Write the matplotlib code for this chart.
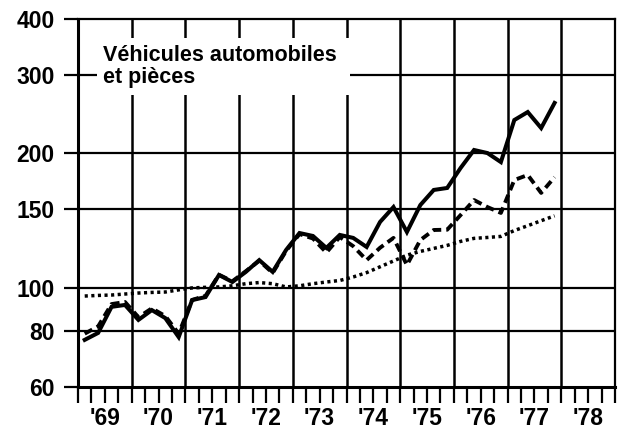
import numpy as np
import matplotlib
matplotlib.use("Agg")
import matplotlib.pyplot as plt
from matplotlib.patches import Rectangle
from matplotlib.ticker import FixedLocator, NullLocator, NullFormatter

plt.rcParams['font.family'] = ['Liberation Sans', 'DejaVu Sans']
plt.rcParams['font.weight'] = 'bold'

# quarterly values, 1969 Q1 .. 1977 Q4
solid = [76.5, 79.3, 90.7, 91.6, 84.8, 89.2, 85.6, 77.6,
         93.9, 95.4, 106.9, 103.1, 108.6, 115.4, 108.6, 121.6,
         132.7, 130.7, 122.9, 131.4, 129.4, 123.5, 140.5, 151.7,
         133.4, 153.3, 165.7, 167.4, 185.6, 203.6, 200.4, 191.3,
         237.6, 247.6, 228.0, 259.5]
dashed = [79.0, 82.0, 92.0, 93.0, 86.0, 90.0, 86.5, 79.0,
          94.0, 96.0, 107.0, 103.5, 109.0, 115.0, 108.0, 121.0,
          132.0, 129.0, 120.0, 130.0, 124.0, 115.4, 123.0, 129.4,
          112.5, 128.0, 134.8, 135.0, 145.6, 157.3, 151.7, 147.2,
          174.4, 179.0, 163.2, 177.0]
dotted = [95.9, 96.2, 96.4, 96.9, 97.4, 97.7, 97.9, 99.0,
          100.0, 100.3, 100.5, 101.1, 102.2, 102.8, 102.2, 100.5,
          101.1, 102.2, 103.1, 103.9, 105.8, 108.2, 111.5, 114.9,
          118.4, 120.7, 122.6, 124.5, 127.1, 129.1, 129.7, 130.4,
          134.4, 137.8, 141.4, 145.0]
years = ["'69", "'70", "'71", "'72", "'73", "'74", "'75", "'76", "'77", "'78"]
y_ticks = [60, 80, 100, 150, 200, 300, 400]
title_lines = ["Véhicules automobiles", "et pièces"]

x = 1969.125 + 0.25 * np.arange(len(solid))

fig = plt.figure(figsize=(6.22, 4.42), dpi=100)
ax = fig.add_axes([78 / 622, 55 / 442, 537 / 622, 368 / 442])

ax.set_yscale('log')
ax.set_ylim(60, 400)
ax.set_xlim(1969, 1979)

# grid
for v in [80, 100, 150, 200, 300]:
    ax.axhline(v, color='black', lw=1.6, zorder=1)
for yr in range(1970, 1979):
    ax.axvline(yr, color='black', lw=1.8, zorder=1)

# box behind the title
ax.add_patch(Rectangle((19 / 537, 292 / 368), 253 / 537, 57 / 368,
                       transform=ax.transAxes, facecolor='white',
                       edgecolor='none', zorder=2))
for line, yb in zip(title_lines, [61, 83]):
    ax.text(25 / 537, (387 - yb) / 368, line, transform=ax.transAxes,
            fontsize=15.5, fontweight='bold', va='baseline', ha='left',
            zorder=3)

ax.plot(x, dotted, color='black', lw=2.5, linestyle=(0, (0.9, 1.0)), zorder=4)
ax.plot(x, dashed, color='black', lw=2.8, linestyle=(0, (2.2, 1.3)), zorder=5)
ax.plot(x, solid, color='black', lw=2.9, solid_joinstyle='miter', zorder=6)

ax.yaxis.set_major_locator(FixedLocator(y_ticks))
ax.yaxis.set_minor_locator(NullLocator())
ax.set_yticklabels([str(v) for v in y_ticks])
ax.yaxis.set_minor_formatter(NullFormatter())
ax.tick_params(axis='y', which='major', length=10, width=1.6, pad=7,
               labelsize=16.5)

ax.xaxis.set_major_locator(FixedLocator(np.arange(1969, 1979.01, 0.25)))
ax.xaxis.set_major_formatter(NullFormatter())
ax.xaxis.set_minor_locator(NullLocator())
ax.tick_params(axis='x', which='major', direction='out', length=11.5,
               width=1.6)

# year labels centred in each year
for i, lab in enumerate(years):
    ax.text(1969.5 + i, -0.085, lab, transform=ax.get_xaxis_transform(),
            ha='center', va='center', fontsize=16.5, fontweight='bold')

for lab in ax.get_yticklabels():
    lab.set_fontweight('bold')

ax.spines['left'].set_linewidth(2.2)
ax.spines['bottom'].set_linewidth(2.2)
ax.spines['top'].set_linewidth(1.6)
ax.spines['right'].set_linewidth(1.6)

fig.savefig("out.png", dpi=100)
